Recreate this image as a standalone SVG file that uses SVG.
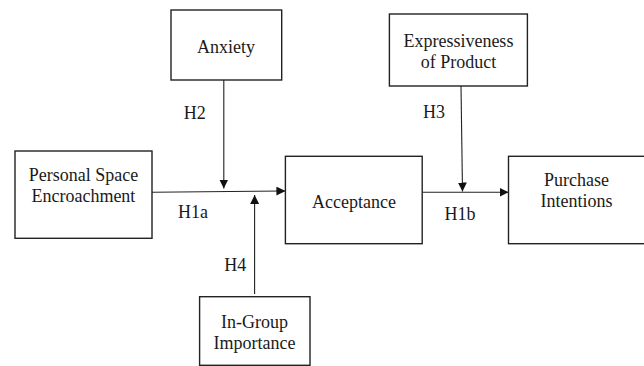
<svg xmlns="http://www.w3.org/2000/svg" width="644" height="366" viewBox="0 0 644 366">
<style>
.box{fill:#fff;stroke:#222;stroke-width:1.4}
.t{font-family:"Liberation Serif","Times New Roman",serif;font-size:18px;fill:#1a1a1a;text-anchor:middle}
.c{stroke:#222;stroke-width:1.1;fill:none;marker-end:url(#ah)}
</style>
<defs>
<marker id="ah" viewBox="0 0 10 10" refX="10" refY="5" markerWidth="9" markerHeight="9" markerUnits="userSpaceOnUse" orient="auto">
<path d="M0,0 L10,5 L0,10 Z" fill="#111"/>
</marker>
</defs>
<rect width="644" height="366" fill="#fff"/>
<g id="connectors">
<path class="c" d="M152,192.3 L285.4,191"/>
<path class="c" d="M223.8,80 L223.8,188.5"/>
<path class="c" d="M254.6,294 L254.6,195"/>
<path class="c" d="M461,86 L462.5,191.5"/>
<path class="c" d="M422.2,192.3 L508.5,192.3"/>
<text class="t" x="194.7" y="119">H2</text>
<text class="t" x="434" y="118">H3</text>
<text class="t" x="193" y="218">H1a</text>
<text class="t" x="460" y="220">H1b</text>
<text class="t" x="235.3" y="271">H4</text>
</g>
<g id="anxiety">
<rect class="box" x="171" y="10" width="110.7" height="70"/>
<text class="t" x="226" y="53">Anxiety</text>
</g>
<g id="expressiveness">
<rect class="box" x="389.4" y="14" width="138" height="72"/>
<text class="t" x="458.4" y="47">Expressiveness</text>
<text class="t" x="458.4" y="67.5">of Product</text>
</g>
<g id="personal-space">
<rect class="box" x="15" y="151" width="137" height="87.3"/>
<text class="t" x="83.4" y="180.5">Personal Space</text>
<text class="t" x="83.4" y="201.5">Encroachment</text>
</g>
<g id="acceptance">
<rect class="box" x="285.4" y="156.3" width="136.8" height="87.4"/>
<text class="t" x="354" y="208">Acceptance</text>
</g>
<g id="purchase">
<rect class="box" x="508.5" y="156.3" width="140" height="87.4"/>
<text class="t" x="576.6" y="186">Purchase</text>
<text class="t" x="576.6" y="206.5">Intentions</text>
</g>
<g id="in-group">
<rect class="box" x="199.6" y="296.7" width="110.4" height="68.6"/>
<text class="t" x="254.6" y="328">In-Group</text>
<text class="t" x="254.6" y="348.5">Importance</text>
</g>
</svg>
